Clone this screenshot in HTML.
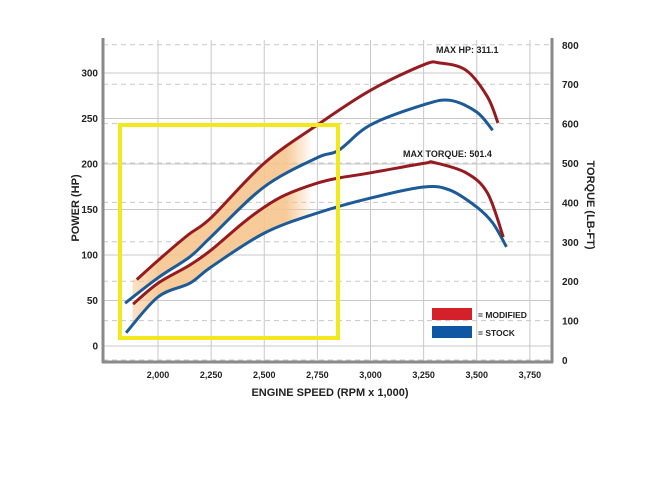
<!DOCTYPE html>
<html><head><meta charset="utf-8"><style>
html,body{margin:0;padding:0;background:#fff;}
svg{display:block;font-family:"Liberation Sans",Arial,sans-serif;font-weight:bold;}
</style></head><body>
<svg width="660" height="495" viewBox="0 0 660 495">
<defs>
<linearGradient id="fade" x1="0" x2="1" y1="0" y2="0">
<stop offset="0" stop-color="#f6c58e" stop-opacity="0.5"/>
<stop offset="0.15" stop-color="#f6c58e" stop-opacity="0.9"/>
<stop offset="0.85" stop-color="#f6c58e" stop-opacity="0.9"/>
<stop offset="1" stop-color="#f6c58e" stop-opacity="0"/>
</linearGradient>
</defs>
<g id="grid"></g>
<g id="shade"></g>
<g id="lines"></g>
<g id="axes"></g>
</svg>
<script>
const rpmTicks=[2000,2250,2500,2750,3000,3250,3500,3750];
const rpmLabels=["2,000","2,250","2,500","2,750","3,000","3,250","3,500","3,750"];
const hpTicks=[0,50,100,150,200,250,300];
const tqTicks=[0,100,200,300,400,500,600,700,800];
const modHpRpm=[1900,2000,2141,2250,2500,2750,3000,3250,3327,3450,3550,3600];
const modHp=[73,94,122,141,201,243,281,309,311,303,274,245];
const stkHpRpm=[1845,2000,2150,2250,2500,2750,2850,3000,3250,3375,3500,3575];
const stkHp=[47,75,98,120,175,207,215,243,265,270,257,237];
const modTqRpm=[1883,2000,2150,2250,2400,2500,2600,2750,2850,3000,3250,3300,3450,3550,3625];
const modTq=[142,195,241,279,348,388,419,449,462,475,499,501,475,424,312];
const stkTqRpm=[1850,2000,2150,2250,2500,2750,3000,3250,3375,3500,3575,3640];
const stkTq=[69,160,195,236,322,373,411,439,431,388,348,287];

const NS="http://www.w3.org/2000/svg";
const X=r=>158+(r-2000)*0.2125;
const YH=h=>346-h*0.91;
const YT=t=>360-t*0.394;
function mk(tag,attrs,parent){const e=document.createElementNS(NS,tag);for(const k in attrs)e.setAttribute(k,attrs[k]);parent.appendChild(e);return e;}
const grid=document.getElementById('grid'),shade=document.getElementById('shade'),lines=document.getElementById('lines'),axes=document.getElementById('axes');
const L=103,R=552,B=362,T=40;

rpmTicks.forEach((r,i)=>{
  const g=mk('line',{x1:X(r),x2:X(r),y1:T,y2:B,stroke:'#c8c8c8','stroke-width':1},grid);
  
  
  const t=mk('text',{x:X(r),y:378,'text-anchor':'middle','font-size':9,fill:'#222'},axes);
  t.textContent=rpmLabels[i];
  
  
});
hpTicks.forEach(h=>{
  const g=mk('line',{x1:L,x2:R,y1:YH(h),y2:YH(h),stroke:'#c8c8c8','stroke-width':1},grid);
  
  
  const t=mk('text',{x:98,y:YH(h)+3.5,'text-anchor':'end','font-size':10,fill:'#222'},axes);
  t.textContent=h;
  
  
});
tqTicks.forEach(v=>{
  const g=mk('line',{x1:L,x2:R,y1:YT(v),y2:YT(v),stroke:'#c8c8c8','stroke-width':1,'stroke-dasharray':'5,4'},grid);
  
  
  const t=mk('text',{x:562,y:YT(v)+4,'font-size':10,fill:'#222'},axes);
  t.textContent=v;
  
  
});

function pts(xs,ys,yf){return xs.map((r,i)=>[X(r),yf(ys[i])]);}
function path(p){return p.map((q,i)=>(i?'L':'M')+q[0].toFixed(1)+','+q[1].toFixed(1)).join(' ');}
function smooth(p){
  let d='M'+p[0][0].toFixed(1)+','+p[0][1].toFixed(1);
  for(let i=0;i<p.length-1;i++){
    const p0=p[i-1]||p[i],p1=p[i],p2=p[i+1],p3=p[i+2]||p2;
    const c1=[p1[0]+(p2[0]-p0[0])/6,p1[1]+(p2[1]-p0[1])/6];
    const c2=[p2[0]-(p3[0]-p1[0])/6,p2[1]-(p3[1]-p1[1])/6];
    d+=' C'+c1[0].toFixed(1)+','+c1[1].toFixed(1)+' '+c2[0].toFixed(1)+','+c2[1].toFixed(1)+' '+p2[0].toFixed(1)+','+p2[1].toFixed(1);
  }
  return d;
}
function band(x1,y1,x2,y2,yf,maxR,name){
  const a=[],b=[];
  for(let r=1880;r<=maxR;r+=10){
    a.push([X(r),yf(interp(x1,y1,r))]);b.push([X(r),yf(interp(x2,y2,r))]);
  }
  const d=path(a)+' '+b.reverse().map(q=>'L'+q[0].toFixed(1)+','+q[1].toFixed(1)).join(' ')+'Z';
  const e=mk('path',{d:d,fill:'url(#fade)'},shade);
  
  
}
function interp(xs,ys,r){
  if(r<=xs[0])return ys[0];
  for(let i=1;i<xs.length;i++)if(r<=xs[i]){const f=(r-xs[i-1])/(xs[i]-xs[i-1]);return ys[i-1]+f*(ys[i]-ys[i-1]);}
  return ys[ys.length-1];
}
band(modHpRpm,modHp,stkHpRpm,stkHp,YH,2730,'hp-gain-shading');
band(modTqRpm,modTq,stkTqRpm,stkTq,YT,2730,'torque-gain-shading');

function line(xs,ys,yf,color,name){
  const e=mk('path',{d:smooth(pts(xs,ys,yf)),fill:'none',stroke:color,'stroke-width':3,'stroke-linejoin':'round','stroke-linecap':'butt'},lines);
  
  
}
line(stkHpRpm,stkHp,YH,'#1c5a98','stock-hp-line');
line(modHpRpm,modHp,YH,'#961b20','modified-hp-line');
line(stkTqRpm,stkTq,YT,'#1c5a98','stock-torque-line');
line(modTqRpm,modTq,YT,'#961b20','modified-torque-line');
</script>
<svg width="660" height="495" style="position:absolute;left:0;top:0">
<line x1="103" y1="38" x2="103" y2="363" stroke="#8a8a8a" stroke-width="3"/>
<line x1="102" y1="362" x2="553" y2="362" stroke="#8a8a8a" stroke-width="3"/>
<line x1="552" y1="38" x2="552" y2="363" stroke="#8a8a8a" stroke-width="3"/>
<rect x="120" y="125" width="218" height="213" fill="none" stroke="#f2e81c" stroke-width="4"/>
<text x="436" y="53" font-size="9" font-family="Liberation Sans,sans-serif" font-weight="bold" fill="#222">MAX HP: 311.1</text>
<text x="403" y="157" font-size="9" font-family="Liberation Sans,sans-serif" font-weight="bold" fill="#222">MAX TORQUE: 501.4</text>
<rect x="432" y="308" width="40" height="12" fill="#d3202a"/>
<text x="478" y="318" font-size="8.5" font-family="Liberation Sans,sans-serif" font-weight="bold" fill="#222">= MODIFIED</text>
<rect x="432" y="326" width="40" height="12" fill="#0f57a2"/>
<text x="478" y="336" font-size="8.5" font-family="Liberation Sans,sans-serif" font-weight="bold" fill="#222">= STOCK</text>
<text x="330" y="396" text-anchor="middle" font-size="11" font-family="Liberation Sans,sans-serif" font-weight="bold" fill="#222">ENGINE SPEED (RPM x 1,000)</text>
<text transform="translate(79,208) rotate(-90)" text-anchor="middle" font-size="11" font-family="Liberation Sans,sans-serif" font-weight="bold" fill="#222">POWER (HP)</text>
<text transform="translate(587,205) rotate(90)" text-anchor="middle" font-size="11" font-family="Liberation Sans,sans-serif" font-weight="bold" fill="#222">TORQUE (LB-FT)</text>
</svg>
</body></html>
